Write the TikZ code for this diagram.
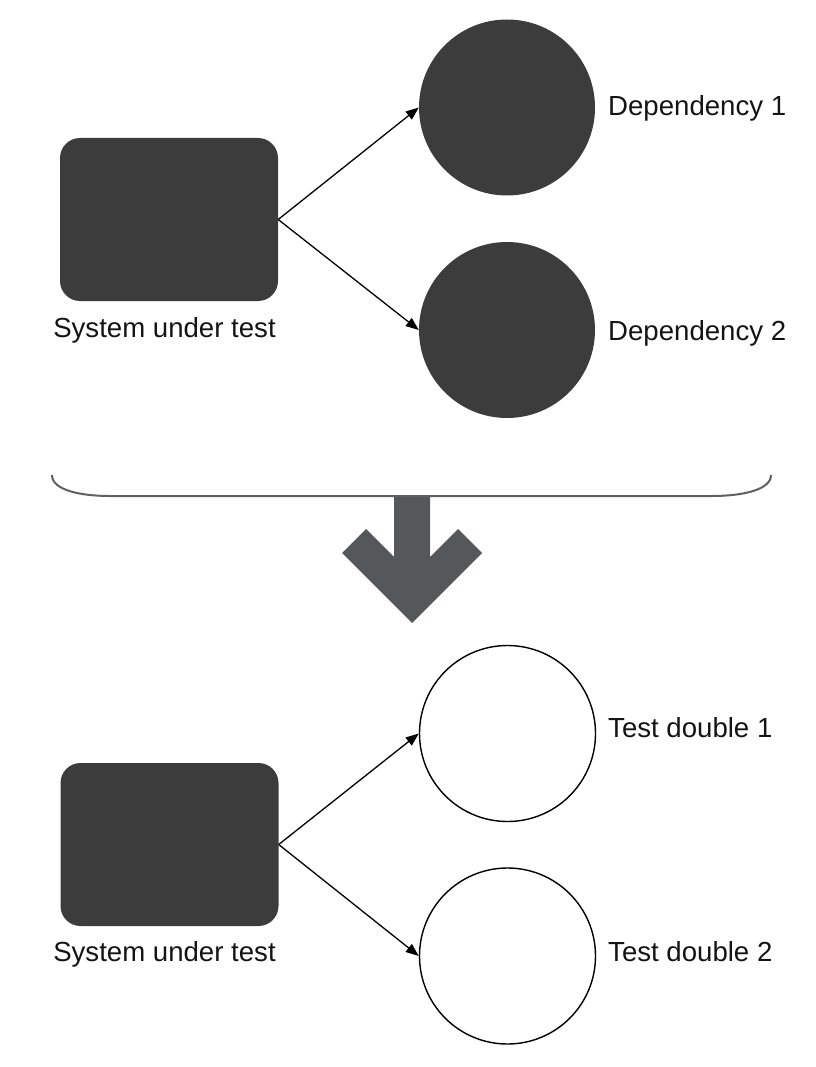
\documentclass[tikz,border=0pt]{standalone}
\usepackage{fontspec}
\setmainfont{Liberation Sans}
\usetikzlibrary{arrows.meta}
\definecolor{boxgray}{HTML}{3C3C3C}
\definecolor{bigarrow}{HTML}{555858}
\definecolor{bracegray}{HTML}{606060}
\begin{document}
\begin{tikzpicture}[x=1pt,y=-1pt,
    sut/.style={rectangle,rounded corners=20pt,fill=boxgray,minimum width=218pt,minimum height=163pt,inner sep=0pt},
    dep/.style={circle,fill=boxgray,minimum size=176pt,inner sep=0pt},
    double/.style={circle,draw=black,line width=1.4pt,fill=white,minimum size=176pt,inner sep=0pt},
    lbl/.style={inner sep=0pt,font=\fontsize{27.6}{32}\selectfont,text=black!92},
    link/.style={line width=1.3pt,-{Triangle[length=13pt,width=10pt]}}]
\useasboundingbox (0,0) rectangle (815,1067);
\node[sut] (sut1) at (169,219.5) {};
\node[dep] (dep1) at (507,107.5) {};
\node[dep] (dep2) at (507,330) {};
\node[lbl,anchor=base] (sut1lbl) at (164.5,337) {System under test};
\node[lbl,anchor=base west] (dep1lbl) at (608,116) {Dependency 1};
\node[lbl,anchor=base west] (dep2lbl) at (608,340) {Dependency 2};
\draw[link] (sut1.east) -- (dep1.west);
\draw[link] (sut1.east) -- (dep2.west);
\draw[bracegray,line width=2pt]
    (52,475) .. controls (52,490) and (80,496) .. (110,496) -- (712,496)
    .. controls (742,496) and (771,490) .. (771,475);
\fill[bigarrow] (394,497) -- (394,557) -- (366,529) -- (342,553) -- (412,623)
    -- (482,553) -- (458,529) -- (430,557) -- (430,497) -- cycle;
\node[sut] (sut2) at (169.5,844.5) {};
\node[double] (dbl1) at (507.5,733.5) {};
\node[double] (dbl2) at (507.5,956) {};
\node[lbl,anchor=base] (sut2lbl) at (164.5,961) {System under test};
\node[lbl,anchor=base west] (dbl1lbl) at (608,737) {Test double 1};
\node[lbl,anchor=base west] (dbl2lbl) at (608,961) {Test double 2};
\draw[link] (sut2.east) -- (dbl1.west);
\draw[link] (sut2.east) -- (dbl2.west);
\end{tikzpicture}
\end{document}
